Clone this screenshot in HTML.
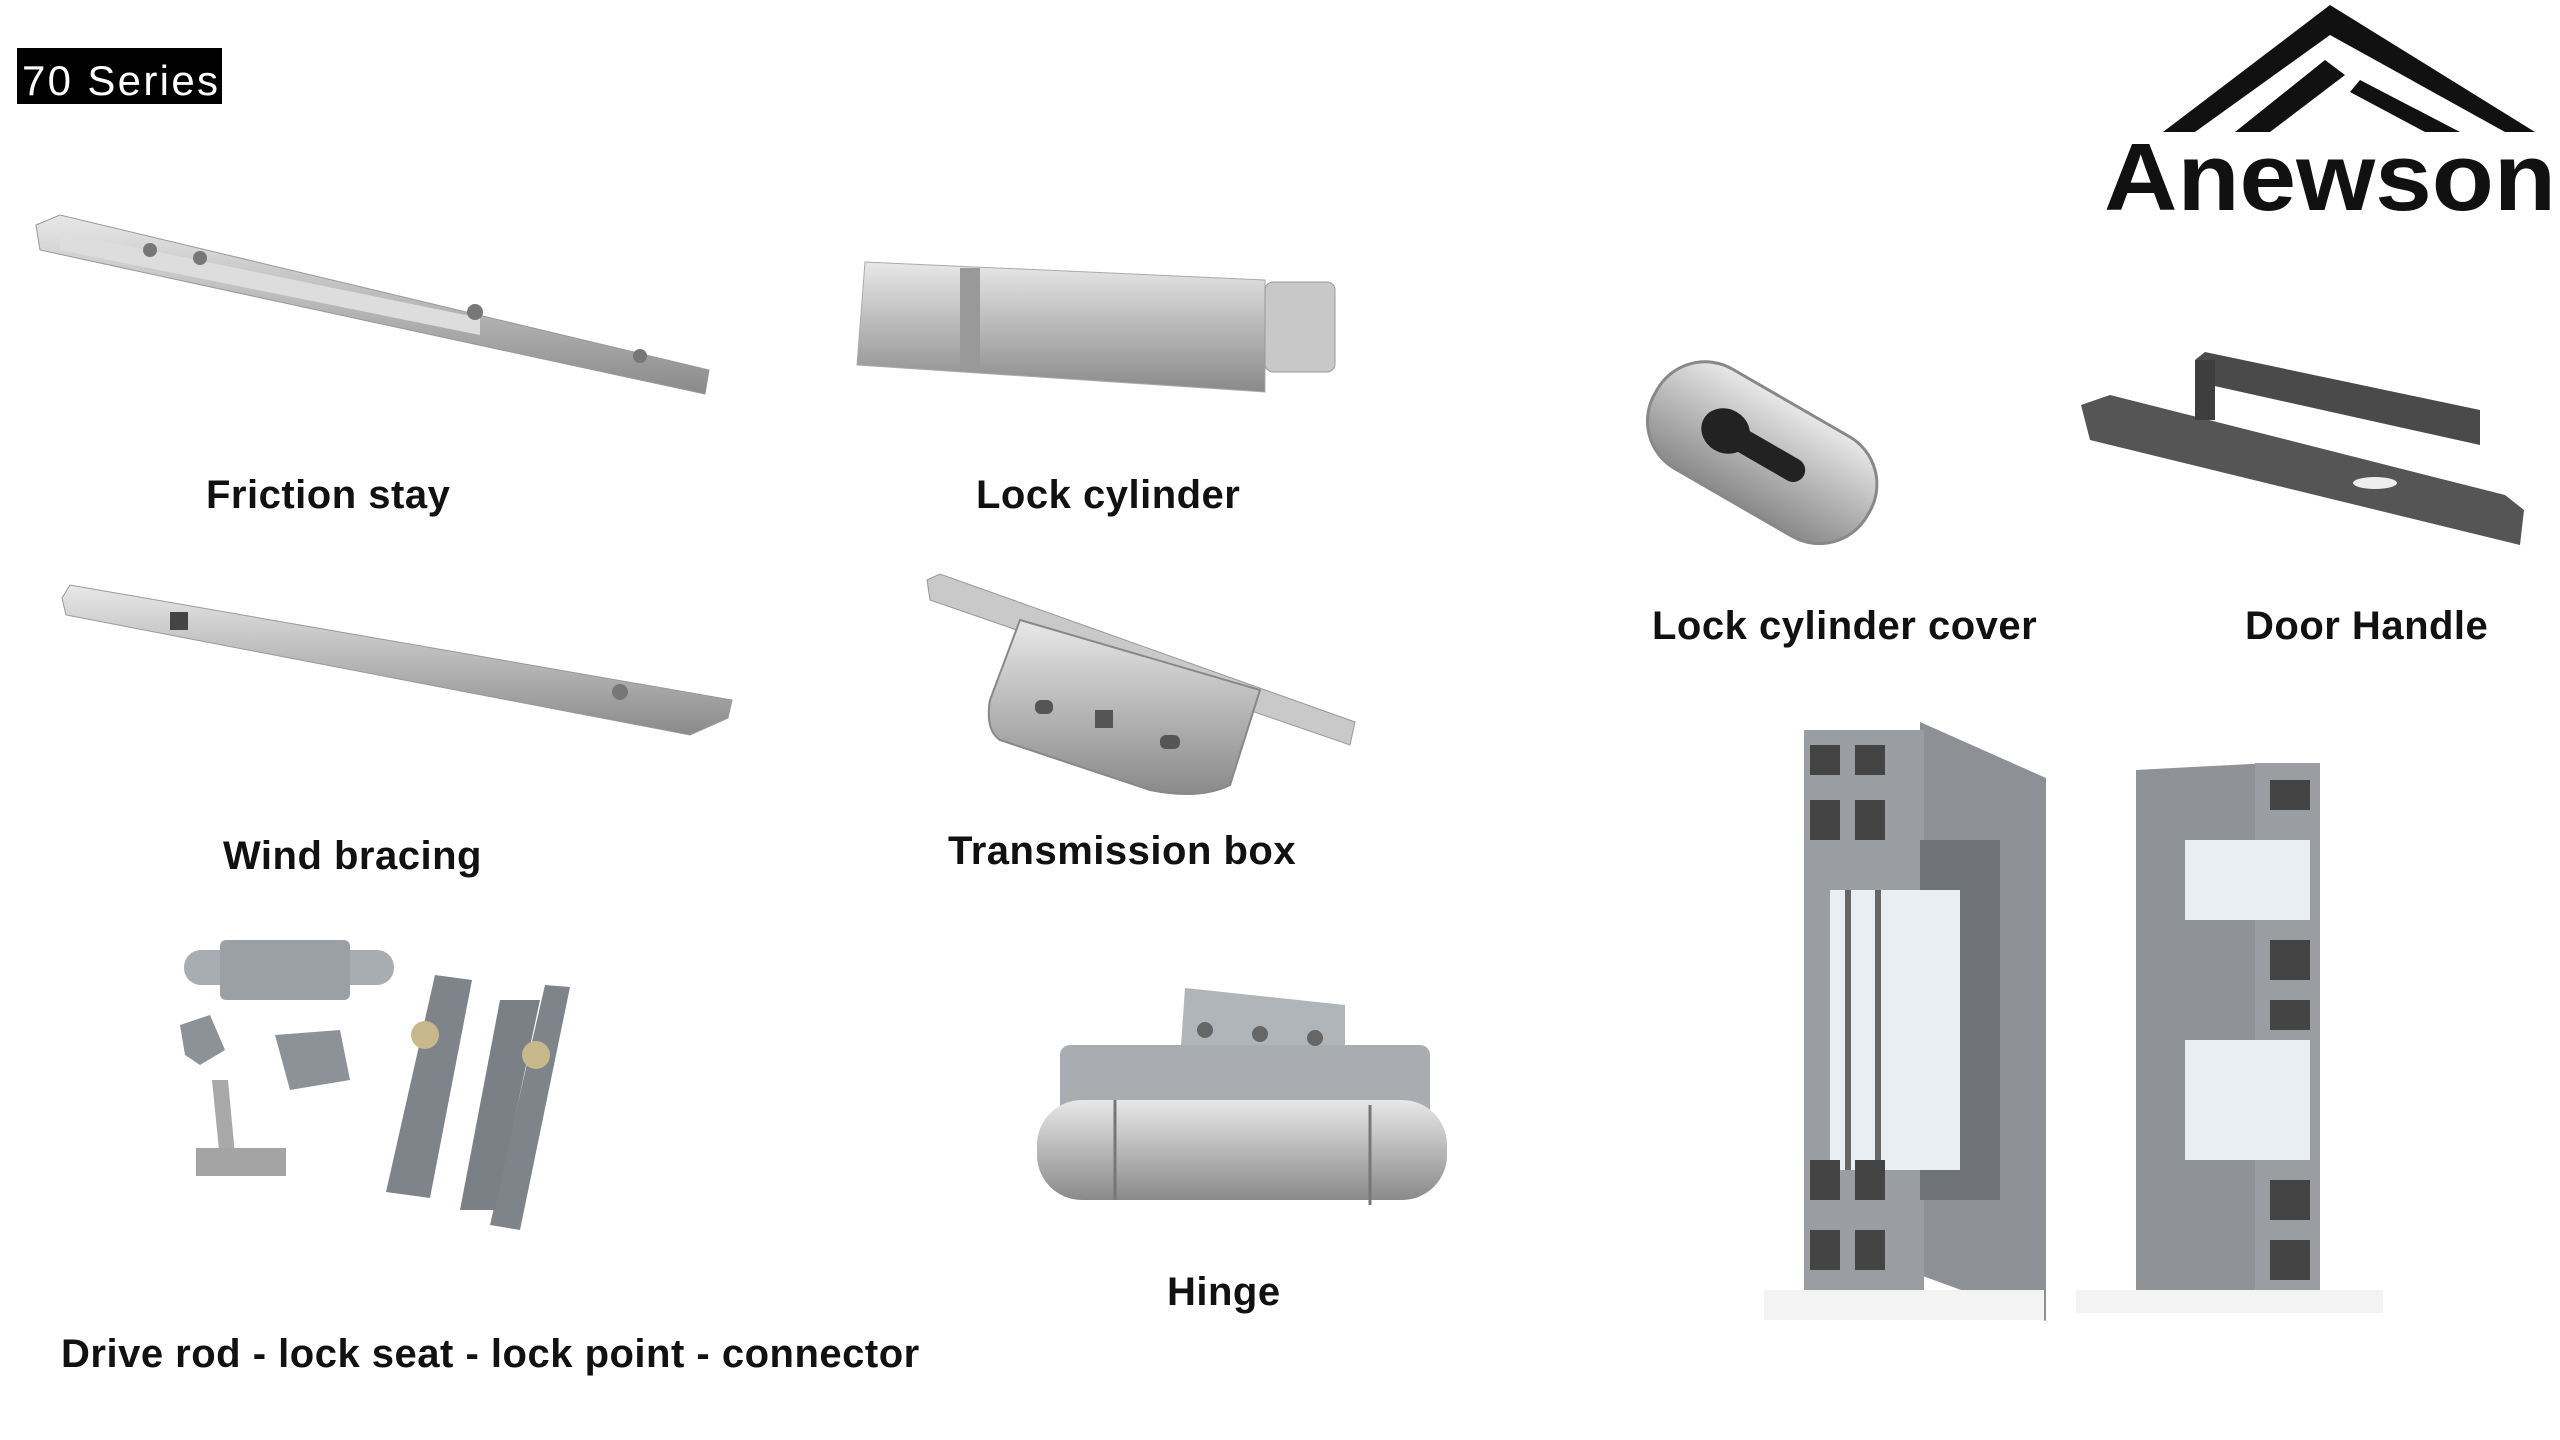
<!DOCTYPE html>
<html><head><meta charset="utf-8"><style>
html,body{margin:0;padding:0;background:#fff;}
body{width:2560px;height:1440px;position:relative;overflow:hidden;font-family:"Liberation Sans",sans-serif;}
.lbl{position:absolute;font-weight:bold;font-size:40px;letter-spacing:0.5px;color:#111;white-space:nowrap;line-height:1;}
svg{position:absolute;left:0;top:0;}
</style></head><body>
<svg width="2560" height="1440" viewBox="0 0 2560 1440">
<defs>
<linearGradient id="m" x1="0" y1="0" x2="0" y2="1"><stop offset="0" stop-color="#e8e8e8"/><stop offset=".5" stop-color="#b8b8b8"/><stop offset="1" stop-color="#8a8a8a"/></linearGradient>
</defs>
<rect x="17" y="48" width="205" height="56" fill="#000"/>
<text x="22" y="95" font-family="Liberation Sans" font-size="42" fill="#fff" textLength="196">70 Series</text>
<polygon points="2330,5 2535,132 2505,132 2330,35 2195,132 2163,132" fill="#111"/>
<polygon points="2235,132 2325,60 2345,75 2270,132" fill="#111"/>
<polygon points="2360,80 2460,132 2425,132 2350,92" fill="#111"/>
<text x="2104" y="210" font-family="Liberation Sans" font-weight="bold" font-size="96" fill="#111" textLength="452" lengthAdjust="spacingAndGlyphs">Anewson</text>
<polygon points="36,225 60,215 709,370 705,394 40,250" fill="url(#m)" stroke="#999"/>
<polygon points="60,232 480,318 480,335 60,250" fill="#ddd"/>
<circle cx="150" cy="250" r="7" fill="#777"/><circle cx="200" cy="258" r="7" fill="#777"/><circle cx="475" cy="312" r="8" fill="#777"/><circle cx="640" cy="356" r="7" fill="#777"/>
<path d="M865,262 L1265,280 L1265,392 L857,365 Z" fill="url(#m)" stroke="#aaa"/>
<rect x="1265" y="282" width="70" height="90" rx="8" fill="#c8c8c8" stroke="#999"/>
<rect x="960" y="268" width="20" height="100" fill="#999"/>
<g transform="rotate(30 1762 452)"><rect x="1640" y="395" width="245" height="115" rx="55" fill="url(#m)" stroke="#888" stroke-width="3"/>
<ellipse cx="1720" cy="452" rx="25" ry="22" fill="#222"/><rect x="1720" y="440" width="90" height="24" rx="12" fill="#222"/></g>
<polygon points="2081,405 2110,395 2505,495 2524,510 2520,545 2090,440" fill="#555"/>
<polygon points="2195,360 2205,352 2480,410 2480,445 2210,385" fill="#4a4a4a"/>
<rect x="2195" y="360" width="20" height="60" fill="#3e3e3e"/>
<ellipse cx="2375" cy="483" rx="22" ry="6" fill="#eee"/>
<polygon points="62,598 70,585 732,700 728,718 690,735 66,615" fill="url(#m)" stroke="#999"/>
<rect x="170" y="612" width="18" height="18" fill="#444"/>
<circle cx="620" cy="692" r="8" fill="#777"/>
<polygon points="927,580 940,574 1355,722 1350,745 930,600" fill="#c9c9c9" stroke="#999"/>
<path d="M1020,620 L1260,690 L1230,785 Q1200,800 1150,790 L1000,740 Q985,730 990,700 Z" fill="url(#m)" stroke="#888" stroke-width="2"/>
<rect x="1035" y="700" width="18" height="14" rx="6" fill="#555"/><rect x="1095" y="710" width="18" height="18" fill="#555"/><rect x="1160" y="735" width="20" height="14" rx="6" fill="#555"/>
<rect x="184" y="950" width="210" height="35" rx="17" fill="#a8adb2"/>
<rect x="220" y="940" width="130" height="60" rx="6" fill="#9aa0a6"/>
<polygon points="180,1025 210,1015 225,1050 200,1065 185,1055" fill="#8c9298"/>
<polygon points="275,1035 340,1030 350,1080 290,1090" fill="#8c9298"/>
<polygon points="212,1080 228,1080 235,1155 220,1160" fill="#a8a8a8"/>
<rect x="196" y="1148" width="90" height="28" fill="#a4a4a4"/>
<polygon points="435,975 472,980 430,1198 386,1192" fill="#7e848a"/>
<polygon points="545,985 570,987 520,1230 490,1225" fill="#7e848a"/>
<polygon points="500,1000 540,1000 495,1210 460,1210" fill="#7a8086"/>
<circle cx="425" cy="1035" r="14" fill="#c9b88c"/><circle cx="536" cy="1055" r="14" fill="#c9b88c"/>
<polygon points="1185,988 1345,1005 1345,1070 1180,1060" fill="#b0b5ba"/>
<rect x="1060" y="1045" width="370" height="100" rx="10" fill="#a9adb2"/>
<rect x="1037" y="1100" width="410" height="100" rx="45" fill="url(#m)"/>
<line x1="1115" y1="1100" x2="1115" y2="1200" stroke="#777" stroke-width="3"/>
<line x1="1370" y1="1105" x2="1370" y2="1205" stroke="#777" stroke-width="3"/>
<circle cx="1205" cy="1030" r="8" fill="#666"/><circle cx="1260" cy="1034" r="8" fill="#666"/><circle cx="1315" cy="1038" r="8" fill="#666"/>
<polygon points="1920,722 2046,778 2046,1321 1920,1275" fill="#8d9095"/>
<rect x="1804" y="730" width="120" height="590" fill="#9a9da1"/>
<rect x="1920" y="840" width="80" height="360" fill="#6f7276"/>
<rect x="1830" y="890" width="130" height="280" fill="#e8eef2"/>
<rect x="1845" y="890" width="6" height="280" fill="#666"/><rect x="1875" y="890" width="6" height="280" fill="#666"/>
<g fill="#444"><rect x="1810" y="745" width="30" height="30"/><rect x="1855" y="745" width="30" height="30"/><rect x="1810" y="800" width="30" height="40"/><rect x="1855" y="800" width="30" height="40"/><rect x="1810" y="1160" width="30" height="40"/><rect x="1855" y="1160" width="30" height="40"/><rect x="1810" y="1230" width="30" height="40"/><rect x="1855" y="1230" width="30" height="40"/></g>
<rect x="1764" y="1290" width="280" height="30" fill="#f3f3f3"/>
<polygon points="2136,770 2270,763 2270,1313 2136,1300" fill="#8f9296"/>
<rect x="2255" y="763" width="65" height="550" fill="#9a9da1"/>
<rect x="2185" y="840" width="125" height="80" fill="#e8eef2"/>
<rect x="2185" y="1040" width="125" height="120" fill="#e8eef2"/>
<g fill="#444"><rect x="2270" y="780" width="40" height="30"/><rect x="2270" y="940" width="40" height="40"/><rect x="2270" y="1000" width="40" height="30"/><rect x="2270" y="1180" width="40" height="40"/><rect x="2270" y="1240" width="40" height="40"/></g>
<rect x="2076" y="1290" width="307" height="23" fill="#f3f3f3"/>
</svg>
<div class="lbl" style="left:206px;top:475px">Friction stay</div>
<div class="lbl" style="left:976px;top:475px">Lock cylinder</div>
<div class="lbl" style="left:1652px;top:606px">Lock cylinder cover</div>
<div class="lbl" style="left:2245px;top:606px">Door Handle</div>
<div class="lbl" style="left:223px;top:836px">Wind bracing</div>
<div class="lbl" style="left:948px;top:831px">Transmission box</div>
<div class="lbl" style="left:1167px;top:1272px">Hinge</div>
<div class="lbl" style="left:61px;top:1334px">Drive rod - lock seat - lock point - connector</div>
</body></html>
